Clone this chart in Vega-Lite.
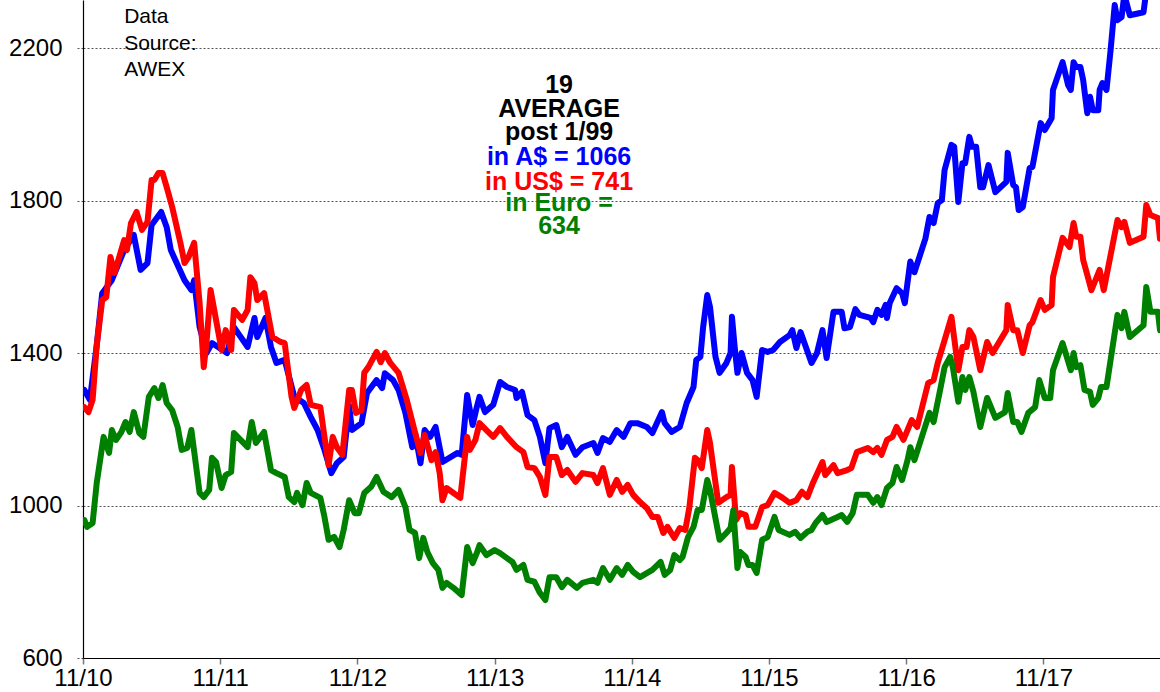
{
  "$schema": "https://vega.github.io/schema/vega-lite/v6.json",
  "width": 1077,
  "height": 658,
  "autosize": {"type": "none"},
  "padding": {"left": 83, "top": 0, "right": 0, "bottom": 34},
  "background": "white",
  "config": {
    "view": {"stroke": null},
    "font": "Liberation Sans"
  },
  "datasets": {
    "aud": [
      {"t":2010.84,"v":1303},{"t":2010.88,"v":1277},{"t":2010.93,"v":1420},{"t":2010.97,"v":1557},{"t":2011.04,"v":1591},{"t":2011.13,"v":1670},{"t":2011.20,"v":1710},{"t":2011.25,"v":1618},{"t":2011.30,"v":1636},{"t":2011.33,"v":1736},{"t":2011.40,"v":1770},{"t":2011.44,"v":1730},{"t":2011.47,"v":1670},{"t":2011.57,"v":1591},{"t":2011.62,"v":1565},{"t":2011.64,"v":1591},{"t":2011.68,"v":1468},{"t":2011.73,"v":1400},{"t":2011.77,"v":1426},{"t":2011.88,"v":1400},{"t":2011.93,"v":1468},{"t":2012.03,"v":1416},{"t":2012.08,"v":1492},{"t":2012.10,"v":1442},{"t":2012.16,"v":1492},{"t":2012.20,"v":1416},{"t":2012.24,"v":1374},{"t":2012.30,"v":1382},{"t":2012.37,"v":1285},{"t":2012.44,"v":1269},{"t":2012.49,"v":1232},{"t":2012.54,"v":1198},{"t":2012.59,"v":1146},{"t":2012.64,"v":1085},{"t":2012.68,"v":1111},{"t":2012.73,"v":1127},{"t":2012.77,"v":1262},{"t":2012.79,"v":1198},{"t":2012.86,"v":1216},{"t":2012.90,"v":1295},{"t":2012.97,"v":1329},{"t":2013.01,"v":1308},{"t":2013.03,"v":1347},{"t":2013.09,"v":1329},{"t":2013.13,"v":1303},{"t":2013.18,"v":1243},{"t":2013.23,"v":1153},{"t":2013.25,"v":1190},{"t":2013.29,"v":1111},{"t":2013.32,"v":1198},{"t":2013.36,"v":1180},{"t":2013.40,"v":1206},{"t":2013.45,"v":1114},{"t":2013.56,"v":1138},{"t":2013.59,"v":1133},{"t":2013.63,"v":1290},{"t":2013.67,"v":1211},{"t":2013.70,"v":1258},{"t":2013.72,"v":1285},{"t":2013.76,"v":1245},{"t":2013.82,"v":1264},{"t":2013.87,"v":1324},{"t":2013.92,"v":1311},{"t":2013.98,"v":1303},{"t":2013.99,"v":1282},{"t":2014.03,"v":1298},{"t":2014.07,"v":1237},{"t":2014.12,"v":1224},{"t":2014.16,"v":1180},{"t":2014.20,"v":1111},{"t":2014.23,"v":1203},{"t":2014.28,"v":1211},{"t":2014.32,"v":1153},{"t":2014.36,"v":1180},{"t":2014.42,"v":1133},{"t":2014.47,"v":1153},{"t":2014.55,"v":1164},{"t":2014.58,"v":1138},{"t":2014.62,"v":1177},{"t":2014.67,"v":1167},{"t":2014.72,"v":1198},{"t":2014.77,"v":1180},{"t":2014.82,"v":1216},{"t":2014.87,"v":1216},{"t":2014.94,"v":1206},{"t":2014.98,"v":1190},{"t":2015.05,"v":1245},{"t":2015.07,"v":1216},{"t":2015.12,"v":1193},{"t":2015.18,"v":1206},{"t":2015.23,"v":1269},{"t":2015.28,"v":1311},{"t":2015.30,"v":1382},{"t":2015.33,"v":1390},{"t":2015.35,"v":1468},{"t":2015.38,"v":1552},{"t":2015.40,"v":1521},{"t":2015.44,"v":1390},{"t":2015.47,"v":1348},{"t":2015.52,"v":1374},{"t":2015.55,"v":1400},{"t":2015.56,"v":1495},{"t":2015.58,"v":1416},{"t":2015.60,"v":1348},{"t":2015.63,"v":1400},{"t":2015.67,"v":1348},{"t":2015.71,"v":1329},{"t":2015.74,"v":1285},{"t":2015.78,"v":1408},{"t":2015.82,"v":1403},{"t":2015.86,"v":1408},{"t":2015.91,"v":1429},{"t":2015.98,"v":1447},{"t":2016.00,"v":1460},{"t":2016.03,"v":1413},{"t":2016.06,"v":1455},{"t":2016.14,"v":1374},{"t":2016.18,"v":1400},{"t":2016.22,"v":1460},{"t":2016.25,"v":1387},{"t":2016.30,"v":1508},{"t":2016.36,"v":1508},{"t":2016.38,"v":1465},{"t":2016.42,"v":1468},{"t":2016.46,"v":1515},{"t":2016.49,"v":1500},{"t":2016.57,"v":1492},{"t":2016.59,"v":1481},{"t":2016.62,"v":1513},{"t":2016.65,"v":1500},{"t":2016.68,"v":1526},{"t":2016.69,"v":1492},{"t":2016.71,"v":1531},{"t":2016.76,"v":1570},{"t":2016.80,"v":1557},{"t":2016.82,"v":1531},{"t":2016.86,"v":1640},{"t":2016.89,"v":1612},{"t":2016.97,"v":1700},{"t":2017.00,"v":1757},{"t":2017.03,"v":1741},{"t":2017.06,"v":1793},{"t":2017.09,"v":1801},{"t":2017.11,"v":1880},{"t":2017.16,"v":1946},{"t":2017.18,"v":1941},{"t":2017.21,"v":1796},{"t":2017.24,"v":1898},{"t":2017.26,"v":1898},{"t":2017.29,"v":1967},{"t":2017.31,"v":1941},{"t":2017.34,"v":1941},{"t":2017.37,"v":1835},{"t":2017.39,"v":1835},{"t":2017.43,"v":1893},{"t":2017.48,"v":1822},{"t":2017.56,"v":1849},{"t":2017.57,"v":1925},{"t":2017.61,"v":1841},{"t":2017.63,"v":1835},{"t":2017.65,"v":1775},{"t":2017.68,"v":1783},{"t":2017.73,"v":1885},{"t":2017.75,"v":1888},{"t":2017.81,"v":2003},{"t":2017.84,"v":1985},{"t":2017.89,"v":2016},{"t":2017.90,"v":2090},{"t":2017.97,"v":2163},{"t":2018.01,"v":2103},{"t":2018.03,"v":2090},{"t":2018.05,"v":2163},{"t":2018.07,"v":2150},{"t":2018.10,"v":2150},{"t":2018.12,"v":2116},{"t":2018.15,"v":2029},{"t":2018.17,"v":2072},{"t":2018.19,"v":2037},{"t":2018.23,"v":2037},{"t":2018.24,"v":2090},{"t":2018.26,"v":2108},{"t":2018.29,"v":2090},{"t":2018.32,"v":2195},{"t":2018.35,"v":2313},{"t":2018.37,"v":2273},{"t":2018.40,"v":2281},{"t":2018.42,"v":2340},{"t":2018.46,"v":2286},{"t":2018.56,"v":2294},{"t":2018.58,"v":2350},{"t":2018.61,"v":2360},{"t":2018.68,"v":2380}
    ],
    "usd": [
      {"t":2010.84,"v":1258},{"t":2010.87,"v":1245},{"t":2010.90,"v":1277},{"t":2010.93,"v":1420},{"t":2010.97,"v":1539},{"t":2011.00,"v":1547},{"t":2011.03,"v":1652},{"t":2011.06,"v":1610},{"t":2011.13,"v":1696},{"t":2011.15,"v":1670},{"t":2011.18,"v":1741},{"t":2011.22,"v":1770},{"t":2011.26,"v":1723},{"t":2011.30,"v":1744},{"t":2011.33,"v":1854},{"t":2011.35,"v":1854},{"t":2011.38,"v":1872},{"t":2011.41,"v":1872},{"t":2011.44,"v":1835},{"t":2011.48,"v":1783},{"t":2011.54,"v":1689},{"t":2011.57,"v":1636},{"t":2011.60,"v":1652},{"t":2011.64,"v":1689},{"t":2011.68,"v":1531},{"t":2011.71,"v":1363},{"t":2011.73,"v":1426},{"t":2011.76,"v":1565},{"t":2011.84,"v":1408},{"t":2011.87,"v":1460},{"t":2011.91,"v":1408},{"t":2011.93,"v":1513},{"t":2011.99,"v":1487},{"t":2012.03,"v":1513},{"t":2012.05,"v":1599},{"t":2012.08,"v":1583},{"t":2012.10,"v":1539},{"t":2012.15,"v":1557},{"t":2012.21,"v":1442},{"t":2012.27,"v":1429},{"t":2012.30,"v":1426},{"t":2012.35,"v":1285},{"t":2012.37,"v":1256},{"t":2012.42,"v":1303},{"t":2012.46,"v":1316},{"t":2012.49,"v":1264},{"t":2012.56,"v":1258},{"t":2012.59,"v":1180},{"t":2012.62,"v":1106},{"t":2012.65,"v":1180},{"t":2012.68,"v":1153},{"t":2012.72,"v":1133},{"t":2012.77,"v":1303},{"t":2012.79,"v":1303},{"t":2012.82,"v":1243},{"t":2012.86,"v":1250},{"t":2012.88,"v":1348},{"t":2012.91,"v":1363},{"t":2012.97,"v":1403},{"t":2013.00,"v":1376},{"t":2013.03,"v":1400},{"t":2013.07,"v":1374},{"t":2013.13,"v":1348},{"t":2013.19,"v":1277},{"t":2013.24,"v":1206},{"t":2013.29,"v":1138},{"t":2013.32,"v":1185},{"t":2013.37,"v":1119},{"t":2013.40,"v":1140},{"t":2013.43,"v":1085},{"t":2013.45,"v":1014},{"t":2013.48,"v":1046},{"t":2013.58,"v":1020},{"t":2013.60,"v":1085},{"t":2013.63,"v":1180},{"t":2013.65,"v":1146},{"t":2013.69,"v":1172},{"t":2013.72,"v":1216},{"t":2013.77,"v":1198},{"t":2013.82,"v":1180},{"t":2013.87,"v":1203},{"t":2013.92,"v":1180},{"t":2013.99,"v":1153},{"t":2014.04,"v":1140},{"t":2014.07,"v":1101},{"t":2014.12,"v":1098},{"t":2014.16,"v":1075},{"t":2014.20,"v":1028},{"t":2014.23,"v":1127},{"t":2014.28,"v":1127},{"t":2014.32,"v":1080},{"t":2014.36,"v":1093},{"t":2014.42,"v":1062},{"t":2014.47,"v":1085},{"t":2014.55,"v":1080},{"t":2014.58,"v":1059},{"t":2014.62,"v":1098},{"t":2014.67,"v":1028},{"t":2014.72,"v":1067},{"t":2014.76,"v":1036},{"t":2014.80,"v":1054},{"t":2014.84,"v":1028},{"t":2014.89,"v":1009},{"t":2014.94,"v":993},{"t":2014.98,"v":970},{"t":2015.02,"v":970},{"t":2015.06,"v":928},{"t":2015.09,"v":944},{"t":2015.14,"v":915},{"t":2015.18,"v":941},{"t":2015.22,"v":936},{"t":2015.25,"v":996},{"t":2015.29,"v":1125},{"t":2015.31,"v":1119},{"t":2015.34,"v":1098},{"t":2015.38,"v":1198},{"t":2015.40,"v":1164},{"t":2015.46,"v":1007},{"t":2015.52,"v":1022},{"t":2015.55,"v":1028},{"t":2015.56,"v":1101},{"t":2015.59,"v":962},{"t":2015.62,"v":980},{"t":2015.66,"v":975},{"t":2015.68,"v":944},{"t":2015.73,"v":944},{"t":2015.78,"v":996},{"t":2015.82,"v":1001},{"t":2015.87,"v":1033},{"t":2015.93,"v":1020},{"t":2015.98,"v":1007},{"t":2016.03,"v":1014},{"t":2016.07,"v":1036},{"t":2016.11,"v":1022},{"t":2016.15,"v":1059},{"t":2016.22,"v":1114},{"t":2016.24,"v":1080},{"t":2016.30,"v":1106},{"t":2016.33,"v":1085},{"t":2016.40,"v":1093},{"t":2016.43,"v":1098},{"t":2016.47,"v":1140},{"t":2016.55,"v":1151},{"t":2016.59,"v":1140},{"t":2016.62,"v":1151},{"t":2016.65,"v":1133},{"t":2016.69,"v":1172},{"t":2016.73,"v":1180},{"t":2016.76,"v":1206},{"t":2016.81,"v":1172},{"t":2016.87,"v":1224},{"t":2016.91,"v":1206},{"t":2016.99,"v":1321},{"t":2017.03,"v":1329},{"t":2017.06,"v":1374},{"t":2017.11,"v":1434},{"t":2017.16,"v":1495},{"t":2017.21,"v":1355},{"t":2017.24,"v":1416},{"t":2017.27,"v":1416},{"t":2017.29,"v":1460},{"t":2017.32,"v":1442},{"t":2017.37,"v":1355},{"t":2017.42,"v":1429},{"t":2017.46,"v":1400},{"t":2017.56,"v":1460},{"t":2017.57,"v":1526},{"t":2017.61,"v":1460},{"t":2017.64,"v":1460},{"t":2017.68,"v":1400},{"t":2017.73,"v":1473},{"t":2017.75,"v":1481},{"t":2017.81,"v":1539},{"t":2017.84,"v":1513},{"t":2017.89,"v":1526},{"t":2017.90,"v":1599},{"t":2017.97,"v":1702},{"t":2018.02,"v":1678},{"t":2018.05,"v":1741},{"t":2018.07,"v":1705},{"t":2018.10,"v":1705},{"t":2018.12,"v":1644},{"t":2018.15,"v":1605},{"t":2018.18,"v":1565},{"t":2018.24,"v":1618},{"t":2018.27,"v":1565},{"t":2018.37,"v":1749},{"t":2018.40,"v":1730},{"t":2018.42,"v":1744},{"t":2018.46,"v":1689},{"t":2018.56,"v":1705},{"t":2018.58,"v":1788},{"t":2018.61,"v":1762},{"t":2018.665,"v":1754},{"t":2018.68,"v":1700}
    ],
    "eur": [
      {"t":2010.84,"v":962},{"t":2010.86,"v":944},{"t":2010.90,"v":954},{"t":2010.93,"v":1059},{"t":2010.98,"v":1180},{"t":2011.02,"v":1138},{"t":2011.04,"v":1198},{"t":2011.07,"v":1172},{"t":2011.11,"v":1193},{"t":2011.14,"v":1219},{"t":2011.17,"v":1193},{"t":2011.20,"v":1245},{"t":2011.24,"v":1190},{"t":2011.27,"v":1180},{"t":2011.31,"v":1285},{"t":2011.35,"v":1308},{"t":2011.38,"v":1282},{"t":2011.41,"v":1316},{"t":2011.44,"v":1269},{"t":2011.48,"v":1250},{"t":2011.52,"v":1206},{"t":2011.55,"v":1146},{"t":2011.59,"v":1151},{"t":2011.62,"v":1198},{"t":2011.68,"v":1033},{"t":2011.71,"v":1022},{"t":2011.75,"v":1041},{"t":2011.77,"v":1125},{"t":2011.80,"v":1114},{"t":2011.84,"v":1046},{"t":2011.87,"v":1080},{"t":2011.91,"v":1088},{"t":2011.93,"v":1190},{"t":2012.03,"v":1153},{"t":2012.06,"v":1219},{"t":2012.09,"v":1164},{"t":2012.15,"v":1193},{"t":2012.20,"v":1093},{"t":2012.24,"v":1085},{"t":2012.30,"v":1075},{"t":2012.33,"v":1022},{"t":2012.37,"v":1009},{"t":2012.39,"v":1033},{"t":2012.43,"v":1001},{"t":2012.46,"v":1059},{"t":2012.49,"v":1033},{"t":2012.56,"v":1020},{"t":2012.59,"v":970},{"t":2012.62,"v":910},{"t":2012.66,"v":918},{"t":2012.70,"v":891},{"t":2012.73,"v":936},{"t":2012.77,"v":1014},{"t":2012.81,"v":980},{"t":2012.84,"v":980},{"t":2012.88,"v":1033},{"t":2012.93,"v":1049},{"t":2012.97,"v":1075},{"t":2013.02,"v":1036},{"t":2013.08,"v":1022},{"t":2013.13,"v":1041},{"t":2013.18,"v":996},{"t":2013.21,"v":936},{"t":2013.25,"v":928},{"t":2013.28,"v":862},{"t":2013.31,"v":915},{"t":2013.34,"v":878},{"t":2013.38,"v":849},{"t":2013.42,"v":831},{"t":2013.45,"v":784},{"t":2013.48,"v":797},{"t":2013.53,"v":784},{"t":2013.59,"v":765},{"t":2013.63,"v":891},{"t":2013.67,"v":849},{"t":2013.70,"v":875},{"t":2013.72,"v":896},{"t":2013.77,"v":870},{"t":2013.83,"v":883},{"t":2013.87,"v":875},{"t":2013.92,"v":862},{"t":2013.96,"v":852},{"t":2013.99,"v":831},{"t":2014.04,"v":844},{"t":2014.07,"v":805},{"t":2014.12,"v":800},{"t":2014.16,"v":771},{"t":2014.20,"v":752},{"t":2014.23,"v":812},{"t":2014.28,"v":812},{"t":2014.32,"v":786},{"t":2014.36,"v":805},{"t":2014.43,"v":784},{"t":2014.47,"v":797},{"t":2014.55,"v":805},{"t":2014.58,"v":797},{"t":2014.62,"v":836},{"t":2014.67,"v":805},{"t":2014.72,"v":836},{"t":2014.76,"v":818},{"t":2014.80,"v":844},{"t":2014.84,"v":826},{"t":2014.89,"v":812},{"t":2014.98,"v":831},{"t":2015.04,"v":852},{"t":2015.07,"v":818},{"t":2015.11,"v":831},{"t":2015.14,"v":870},{"t":2015.18,"v":857},{"t":2015.20,"v":865},{"t":2015.24,"v":917},{"t":2015.28,"v":944},{"t":2015.31,"v":988},{"t":2015.34,"v":988},{"t":2015.38,"v":1067},{"t":2015.40,"v":1041},{"t":2015.47,"v":910},{"t":2015.52,"v":928},{"t":2015.55,"v":941},{"t":2015.57,"v":988},{"t":2015.60,"v":836},{"t":2015.62,"v":878},{"t":2015.66,"v":865},{"t":2015.68,"v":844},{"t":2015.71,"v":844},{"t":2015.74,"v":823},{"t":2015.78,"v":910},{"t":2015.82,"v":917},{"t":2015.87,"v":970},{"t":2015.90,"v":936},{"t":2015.98,"v":923},{"t":2016.02,"v":931},{"t":2016.06,"v":915},{"t":2016.11,"v":931},{"t":2016.14,"v":936},{"t":2016.17,"v":954},{"t":2016.22,"v":975},{"t":2016.25,"v":957},{"t":2016.33,"v":970},{"t":2016.36,"v":975},{"t":2016.40,"v":957},{"t":2016.44,"v":980},{"t":2016.47,"v":1028},{"t":2016.55,"v":1028},{"t":2016.59,"v":1007},{"t":2016.62,"v":1022},{"t":2016.65,"v":1001},{"t":2016.69,"v":1046},{"t":2016.73,"v":1059},{"t":2016.76,"v":1101},{"t":2016.80,"v":1067},{"t":2016.84,"v":1119},{"t":2016.86,"v":1153},{"t":2016.89,"v":1119},{"t":2017.00,"v":1243},{"t":2017.03,"v":1219},{"t":2017.08,"v":1308},{"t":2017.11,"v":1363},{"t":2017.15,"v":1390},{"t":2017.17,"v":1363},{"t":2017.21,"v":1272},{"t":2017.24,"v":1337},{"t":2017.26,"v":1303},{"t":2017.29,"v":1337},{"t":2017.32,"v":1298},{"t":2017.37,"v":1206},{"t":2017.42,"v":1282},{"t":2017.48,"v":1230},{"t":2017.55,"v":1245},{"t":2017.57,"v":1295},{"t":2017.61,"v":1219},{"t":2017.64,"v":1219},{"t":2017.67,"v":1193},{"t":2017.72,"v":1243},{"t":2017.77,"v":1258},{"t":2017.80,"v":1329},{"t":2017.84,"v":1282},{"t":2017.88,"v":1282},{"t":2017.90,"v":1355},{"t":2017.97,"v":1426},{"t":2018.03,"v":1355},{"t":2018.05,"v":1400},{"t":2018.07,"v":1363},{"t":2018.10,"v":1368},{"t":2018.13,"v":1303},{"t":2018.17,"v":1298},{"t":2018.19,"v":1264},{"t":2018.23,"v":1282},{"t":2018.25,"v":1311},{"t":2018.29,"v":1311},{"t":2018.37,"v":1500},{"t":2018.40,"v":1465},{"t":2018.42,"v":1508},{"t":2018.46,"v":1442},{"t":2018.56,"v":1473},{"t":2018.58,"v":1573},{"t":2018.61,"v":1508},{"t":2018.665,"v":1508},{"t":2018.68,"v":1460}
    ]
  },
  "layer": [
    {
      "data": {"name": "aud"},
      "mark": {"type": "line", "color": "#0000FF", "strokeWidth": 6, "strokeJoin": "round", "strokeCap": "round", "clip": true},
      "encoding": {
        "x": {
          "field": "t", "type": "quantitative",
          "scale": {"domain": [2010.83, 2018.68], "nice": false, "zero": false},
          "axis": {
            "title": null, "grid": false,
            "values": [2010.83, 2011.83, 2012.83, 2013.83, 2014.83, 2015.83, 2016.83, 2017.83],
            "labelExpr": "'11/' + format(floor(datum.value) % 100, '02d')",
            "labelFlush": false, "labelOverlap": false,
            "labelFont": "Liberation Sans", "labelFontSize": 24, "labelColor": "#000000",
            "labelPadding": 2,
            "domainColor": "#000000", "domainWidth": 1.2,
            "tickColor": "#777777", "tickSize": 6, "tickWidth": 1.5
          }
        },
        "y": {
          "field": "v", "type": "quantitative",
          "scale": {"domain": [600, 2326], "nice": false, "zero": false},
          "axis": {
            "title": null,
            "values": [600, 1000, 1400, 1800, 2200],
            "format": "d",
            "grid": true, "gridColor": "#555555", "gridDash": [2, 2], "gridWidth": 1,
            "labelFont": "Liberation Sans", "labelFontSize": 24, "labelColor": "#000000",
            "labelPadding": 14,
            "domainColor": "#000000", "domainWidth": 1.2,
            "tickColor": "#555555", "tickSize": 7, "tickDash": [2, 2]
          }
        }
      }
    },
    {
      "data": {"name": "usd"},
      "mark": {"type": "line", "color": "#FF0000", "strokeWidth": 6, "strokeJoin": "round", "strokeCap": "round", "clip": true},
      "encoding": {
        "x": {"field": "t", "type": "quantitative"},
        "y": {"field": "v", "type": "quantitative"}
      }
    },
    {
      "data": {"name": "eur"},
      "mark": {"type": "line", "color": "#008000", "strokeWidth": 6, "strokeJoin": "round", "strokeCap": "round", "clip": true},
      "encoding": {
        "x": {"field": "t", "type": "quantitative"},
        "y": {"field": "v", "type": "quantitative"}
      }
    },
    {
      "data": {"values": [{}]},
      "mark": {"type": "text", "align": "left", "baseline": "middle", "font": "Liberation Sans", "fontSize": 21, "lineHeight": 26.5, "color": "#000000"},
      "encoding": {
        "x": {"datum": 2011.13, "type": "quantitative"},
        "y": {"datum": 2281, "type": "quantitative"},
        "text": {"value": ["Data", "Source:", "AWEX"]}
      }
    },
    {
      "data": {"values": [{}]},
      "mark": {"type": "text", "align": "center", "baseline": "middle", "font": "Liberation Sans", "fontWeight": "bold", "fontSize": 25, "lineHeight": 23.7, "color": "#000000"},
      "encoding": {
        "x": {"datum": 2014.3, "type": "quantitative"},
        "y": {"datum": 2103, "type": "quantitative"},
        "text": {"value": ["19", "AVERAGE", "post 1/99"]}
      }
    },
    {
      "data": {"values": [{}]},
      "mark": {"type": "text", "align": "center", "baseline": "middle", "font": "Liberation Sans", "fontWeight": "bold", "fontSize": 25, "color": "#0000FF"},
      "encoding": {
        "x": {"datum": 2014.3, "type": "quantitative"},
        "y": {"datum": 1914, "type": "quantitative"},
        "text": {"value": "in A$ = 1066"}
      }
    },
    {
      "data": {"values": [{}]},
      "mark": {"type": "text", "align": "center", "baseline": "middle", "font": "Liberation Sans", "fontWeight": "bold", "fontSize": 25, "color": "#FF0000"},
      "encoding": {
        "x": {"datum": 2014.3, "type": "quantitative"},
        "y": {"datum": 1849, "type": "quantitative"},
        "text": {"value": "in US$ = 741"}
      }
    },
    {
      "data": {"values": [{}]},
      "mark": {"type": "text", "align": "center", "baseline": "middle", "font": "Liberation Sans", "fontWeight": "bold", "fontSize": 25, "lineHeight": 22.5, "color": "#008000"},
      "encoding": {
        "x": {"datum": 2014.3, "type": "quantitative"},
        "y": {"datum": 1793, "type": "quantitative"},
        "text": {"value": ["in Euro =", "634"]}
      }
    }
  ]
}
